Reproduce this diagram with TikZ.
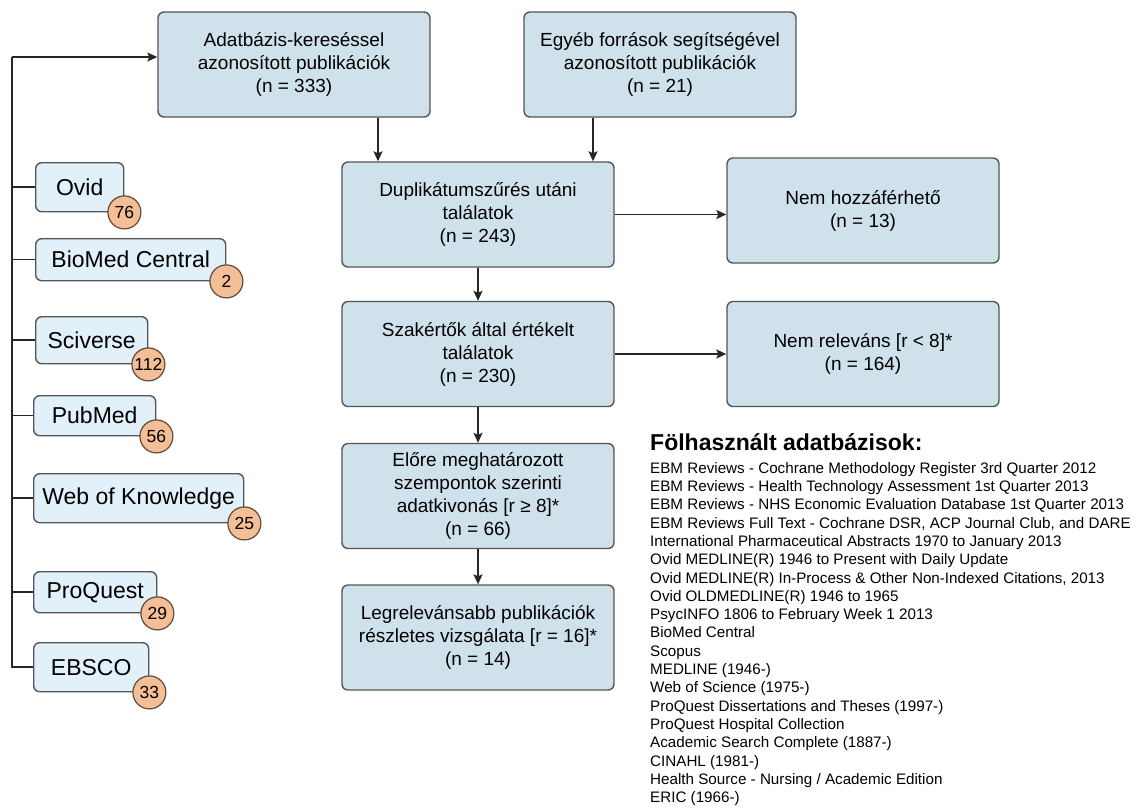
\documentclass[tikz,border=0pt]{standalone}
\usepackage{fontspec}
\setmainfont{Liberation Sans}
\usetikzlibrary{arrows.meta}

\definecolor{boxblue}{RGB}{207,226,236}
\definecolor{srcblue}{RGB}{226,240,250}
\definecolor{edgegray}{RGB}{85,85,85}
\definecolor{badgeorange}{RGB}{244,190,150}
\definecolor{badgeedge}{RGB}{95,75,60}

\tikzset{
  flowbox/.style={draw=edgegray, line width=1.4, fill=boxblue, rounded corners=6,
    minimum width=272, minimum height=105, align=center, inner sep=0,
    font=\fontsize{19}{23}\selectfont},
  srcbox/.style={draw=edgegray, line width=1.4, fill=srcblue, rounded corners=6,
    anchor=north west, inner sep=0, font=\fontsize{23}{27}\selectfont},
  badge/.style={circle, draw=badgeedge, line width=1.2, fill=badgeorange,
    minimum size=33, inner sep=0, font=\fontsize{17.5}{17.5}\selectfont},
  arr/.style={-{Stealth[length=10,width=9,inset=2]}, line width=1.5, draw=black!85},
  link/.style={line width=1.5, draw=black!85},
}

\begin{document}
\begin{tikzpicture}[x=1pt, y=-1pt]
    \useasboundingbox (0,0) rectangle (1139,807);

    % Flow boxes
    \node[flowbox] (found) at (294,64.5) {Adatbázis-kereséssel\\azonosított publikációk\\(n = 333)};
    \node[flowbox] (other) at (660,64.5) {Egyéb források segítségével\\azonosított publikációk\\(n = 21)};
    \node[flowbox] (dedup) at (478,214.5) {Duplikátumszűrés utáni\\találatok\\(n = 243)};
    \node[flowbox] (noacc) at (863,210.5) {Nem hozzáférhető\\(n = 13)};
    \node[flowbox] (rated) at (478,354) {Szakértők által értékelt\\találatok\\(n = 230)};
    \node[flowbox] (norel) at (863,354) {Nem releváns [r < 8]*\\(n = 164)};
    \node[flowbox] (extract) at (478,496) {Előre meghatározott\\szempontok szerinti\\adatkivonás [r ≥ 8]*\\(n = 66)};
    \node[flowbox] (best) at (478,637.5) {Legrelevánsabb publikációk\\részletes vizsgálata [r = 16]*\\(n = 14)};

    % Arrows between boxes
    \draw[arr] ([xshift=84]found.south) -- ([xshift=84]found.south |- dedup.north);
    \draw[arr] ([xshift=-67]other.south) -- ([xshift=-67]other.south |- dedup.north);
    \draw[arr] (dedup.east) -- (dedup.east -| noacc.west);
    \draw[arr] (rated.east) -- (norel.west);
    \draw[arr] (dedup.south) -- (rated.north);
    \draw[arr] (rated.south) -- (extract.north);
    \draw[arr] (extract.south) -- (best.north);

    % Databases with counts
    \node[srcbox, minimum width=88, minimum height=49] (ovid) at (35,162) {Ovid};
    \node[badge] (ovidn) at (ovid.south east) {76};

    \node[srcbox, minimum width=190, minimum height=42] (biomed) at (35,238) {BioMed Central};
    \node[badge] (biomedn) at (biomed.south east) {2};

    \node[srcbox, minimum width=112, minimum height=47] (sciverse) at (35,316) {Sciverse};
    \node[badge] (sciversen) at (sciverse.south east) {112};

    \node[srcbox, minimum width=122, minimum height=40] (pubmed) at (33,395) {PubMed};
    \node[badge] (pubmedn) at (pubmed.south east) {56};

    \node[srcbox, minimum width=210, minimum height=49] (wok) at (33,473) {Web of Knowledge};
    \node[badge] (wokn) at (wok.south east) {25};

    \node[srcbox, minimum width=123, minimum height=41] (proquest) at (33,571) {ProQuest};
    \node[badge] (proquestn) at (proquest.south east) {29};

    \node[srcbox, minimum width=115, minimum height=49] (ebsco) at (33,642) {EBSCO};
    \node[badge] (ebscon) at (ebsco.south east) {33};

    % Bracket on the left
    \coordinate (bus) at (12,57);
    \draw[arr] (bus) -- (bus -| found.west);
    \draw[link] (bus) -- (bus |- ebsco.west) -- (ebsco.west);
    \foreach \src in {ovid,biomed,sciverse,pubmed,wok,proquest}
        \draw[link] (bus |- \src.west) -- (\src.west);

    % List of databases
    \node[anchor=west, inner sep=0, font=\bfseries\fontsize{23}{27}\selectfont] (dbtitle) at (650,442) {Fölhasznált adatbázisok:};
    \node[anchor=north west, align=left, inner sep=0, font=\fontsize{15.2}{18.3}\selectfont] (dblist) at (650,462) {%
        EBM Reviews - Cochrane Methodology Register 3rd Quarter 2012\\
        EBM Reviews - Health Technology Assessment 1st Quarter 2013\\
        EBM Reviews - NHS Economic Evaluation Database 1st Quarter 2013\\
        EBM Reviews Full Text - Cochrane DSR, ACP Journal Club, and DARE\\
        International Pharmaceutical Abstracts 1970 to January 2013\\
        Ovid MEDLINE(R) 1946 to Present with Daily Update\\
        Ovid MEDLINE(R) In-Process \& Other Non-Indexed Citations, 2013\\
        Ovid OLDMEDLINE(R) 1946 to 1965\\
        PsycINFO 1806 to February Week 1 2013\\
        BioMed Central\\
        Scopus\\
        MEDLINE (1946-)\\
        Web of Science (1975-)\\
        ProQuest Dissertations and Theses (1997-)\\
        ProQuest Hospital Collection\\
        Academic Search Complete (1887-)\\
        CINAHL (1981-)\\
        Health Source - Nursing / Academic Edition\\
        ERIC (1966-)};
\end{tikzpicture}
\end{document}
